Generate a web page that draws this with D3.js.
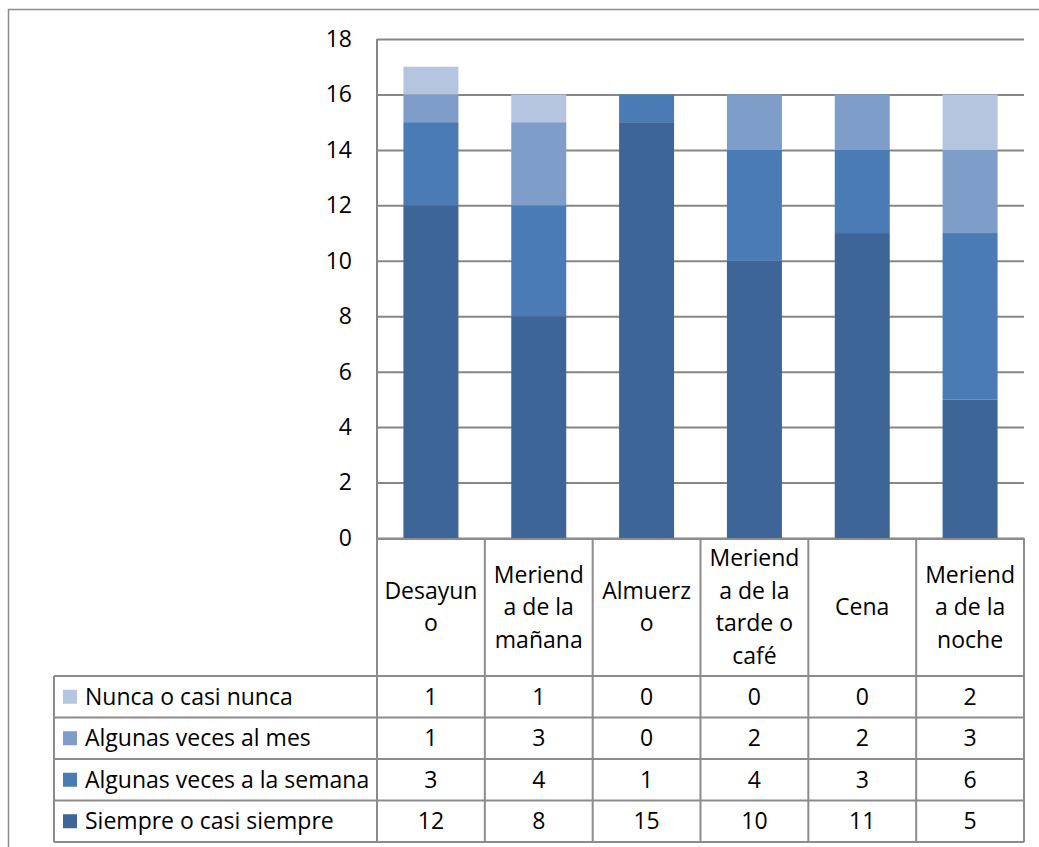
<!DOCTYPE html>
<html>
<head>
<meta charset="utf-8">
<script src="https://cdn.jsdelivr.net/npm/d3@7"></script>
<style>
  body { margin: 0; background: #fff; }
  svg text { font-family: "Open Sans", "Noto Sans", sans-serif; fill: #000; }
</style>
</head>
<body>
<div id="chart"></div>
<script>
// meals (category wrapped the way the original table header wraps them)
const categories = ["Desayuno", "Merienda de la mañana", "Almuerzo", "Merienda de la tarde o café", "Cena", "Merienda de la noche"];
const categoryLines = [
  ["Desayun", "o"],
  ["Meriend", "a de la", "mañana"],
  ["Almuerz", "o"],
  ["Meriend", "a de la", "tarde o", "café"],
  ["Cena"],
  ["Meriend", "a de la", "noche"]
];
// series, bottom of the stack first
const seriesNames = ["Siempre o casi siempre", "Algunas veces a la semana", "Algunas veces al mes", "Nunca o casi nunca"];
const siempre = [12, 8, 15, 10, 11, 5];
const semana = [3, 4, 1, 4, 3, 6];
const mes = [1, 3, 0, 2, 2, 3];
const nunca = [1, 1, 0, 0, 0, 2];
const yTicks = [0, 2, 4, 6, 8, 10, 12, 14, 16, 18];

const colors = ["#3d6597", "#4a7bb5", "#7f9dc9", "#b5c4df"];
const seriesValues = [siempre, semana, mes, nunca];

const W = 1039, H = 847;
const plotLeft = 377, plotRight = 1024, plotTop = 39, plotBottom = 538;
const tableLeft = 54, headerBottom = 676, rowH = 41.5;
const fontSize = '23px';

const svg = d3.select('#chart').append('svg')
  .attr('width', W)
  .attr('height', H);

// outer chart border
svg.append('rect')
  .attr('x', 8.5).attr('y', 9.5)
  .attr('width', W + 20).attr('height', H + 20)
  .attr('fill', 'none')
  .attr('stroke', '#8c8c8c')
  .attr('stroke-width', 1.5);

const x = d3.scaleBand()
  .domain(categories)
  .range([plotLeft, plotRight])
  .paddingInner(0.49)
  .paddingOuter(0.245);

const col = d3.scaleBand()
  .domain(categories)
  .range([plotLeft, plotRight]);

const y = d3.scaleLinear()
  .domain([0, 18])
  .range([plotBottom, plotTop]);

// gridlines + y labels
const yAxis = d3.axisLeft(y)
  .tickValues(yTicks)
  .tickSize(-(plotRight - plotLeft))
  .tickPadding(25);

const gy = svg.append('g')
  .attr('transform', 'translate(' + plotLeft + ',0)')
  .call(yAxis);
gy.select('.domain').remove();
gy.selectAll('.tick line')
  .attr('stroke', '#868686')
  .attr('stroke-width', 2);
gy.selectAll('.tick text')
  .style('font-size', fontSize)
  .style('font-family', '"Open Sans", "Noto Sans", sans-serif');

// stacked bars
const rows = categories.map((c, i) => {
  let r = { cat: c };
  seriesNames.forEach((s, j) => { r[s] = seriesValues[j][i]; });
  return r;
});
const stacked = d3.stack().keys(seriesNames)(rows);

svg.append('g').selectAll('g')
  .data(stacked)
  .join('g')
  .attr('fill', (d, i) => colors[i])
  .selectAll('rect')
  .data(d => d.filter(v => v[1] > v[0]))
  .join('rect')
  .attr('x', d => x(d.data.cat))
  .attr('y', d => y(d[1]))
  .attr('width', x.bandwidth())
  .attr('height', d => y(d[0]) - y(d[1]));

// y axis line
svg.append('line')
  .attr('x1', plotLeft).attr('x2', plotLeft)
  .attr('y1', plotTop).attr('y2', plotBottom)
  .attr('stroke', '#868686').attr('stroke-width', 2);

// data table
const table = svg.append('g');
const lineColor = '#8c8c8c';
const tableBottom = headerBottom + rowH * seriesNames.length;

// header cells (category names)
categories.forEach((c, i) => {
  const cx = col(c) + col.bandwidth() / 2;
  const lines = categoryLines[i];
  const lh = 32.5;
  const mid = (plotBottom + headerBottom) / 2;
  const first = mid - (lines.length - 1) * lh / 2;
  lines.forEach((t, k) => {
    table.append('text')
      .attr('x', cx)
      .attr('y', first + k * lh)
      .attr('dy', '0.35em')
      .attr('text-anchor', 'middle')
      .style('font-size', fontSize)
      .text(t);
  });
});

// value rows, top row = last series
const tableOrder = seriesNames.slice().reverse();
tableOrder.forEach((s, r) => {
  const j = seriesNames.indexOf(s);
  const cy = headerBottom + rowH * r + rowH / 2;
  table.append('rect')
    .attr('x', 63).attr('y', cy - 7)
    .attr('width', 14).attr('height', 14)
    .attr('fill', colors[j]);
  table.append('text')
    .attr('x', 85).attr('y', cy)
    .attr('dy', '0.35em')
    .style('font-size', fontSize)
    .text(s);
  categories.forEach((c, i) => {
    table.append('text')
      .attr('x', col(c) + col.bandwidth() / 2)
      .attr('y', cy)
      .attr('dy', '0.35em')
      .attr('text-anchor', 'middle')
      .style('font-size', fontSize)
      .text(seriesValues[j][i]);
  });
});

// table grid lines
const hLines = d3.range(seriesNames.length + 1).map(k => headerBottom + rowH * k);
hLines.forEach(yy => {
  table.append('line')
    .attr('x1', tableLeft).attr('x2', plotRight)
    .attr('y1', yy).attr('y2', yy)
    .attr('stroke', lineColor).attr('stroke-width', 2);
});
table.append('line')
  .attr('x1', plotLeft).attr('x2', plotRight)
  .attr('y1', plotBottom + 1).attr('y2', plotBottom + 1)
  .attr('stroke', lineColor).attr('stroke-width', 2);
table.append('line')
  .attr('x1', tableLeft).attr('x2', tableLeft)
  .attr('y1', headerBottom).attr('y2', tableBottom)
  .attr('stroke', lineColor).attr('stroke-width', 2);
categories.concat(['end']).forEach((c, i) => {
  const xx = i < categories.length ? col(c) : plotRight;
  table.append('line')
    .attr('x1', xx).attr('x2', xx)
    .attr('y1', plotBottom).attr('y2', tableBottom)
    .attr('stroke', lineColor).attr('stroke-width', 2);
});
</script>
</body>
</html>
